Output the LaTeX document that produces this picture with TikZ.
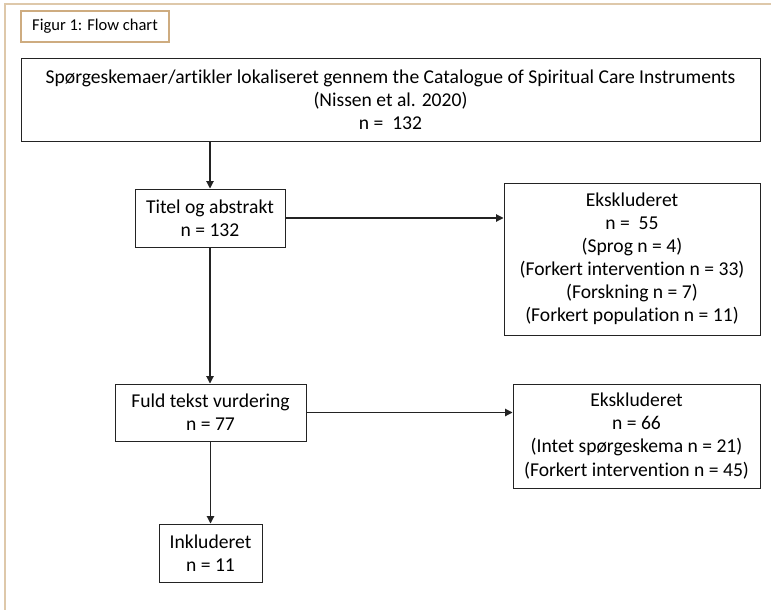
\documentclass[tikz,border=0pt]{standalone}
\usepackage{fontspec}
\setmainfont{Carlito}[Ligatures=NoCommon]
\usepackage{tikz}
\usetikzlibrary{arrows.meta,positioning,calc}
\usepackage{xcolor}
\definecolor{figtan}{RGB}{206,172,128}
\definecolor{frametan}{RGB}{222,200,170}
\definecolor{boxgrey}{RGB}{35,35,35}
\begin{document}
\begin{tikzpicture}[x=0.75pt,y=-0.75pt]
        \tikzstyle{flowbox}=[draw=boxgrey,line width=0.75pt,align=center,inner sep=0pt,
            font=\fontsize{14.7}{17.3}\selectfont]
        \tikzstyle{flowarrow}=[draw=boxgrey,line width=0.8pt,-{Triangle[length=5.5pt,width=5.5pt]}]
        \useasboundingbox (0,0) rectangle (771,610);
        % page frame (only top and left edge visible)
        \draw[frametan,line width=1.4pt] (5,610) -- (5,4) -- (771,4);
        % caption
        \node[draw=figtan,line width=0.9pt,minimum width=111pt,minimum height=23.25pt,inner sep=0pt,
            font=\fontsize{12.4}{14}\selectfont] (caption) at (95,26.5) {Figur 1: Flow chart};
        % boxes of the flow chart (sizes in pt)
        \node[flowbox,minimum width=554.25pt,minimum height=61.5pt] (start) at (390.5,100)
            {Spørgeskemaer/artikler lokaliseret gennem the Catalogue of Spiritual Care Instruments\\
             (Nissen et al. 2020)\\ n =~ 132};
        \node[flowbox,minimum width=112.5pt,minimum height=43.5pt] (titel) at (210,218)
            {Titel og abstrakt\\ n = 132};
        \node[flowbox,minimum width=192pt,minimum height=114pt] (eks1) at (632,259)
            {Ekskluderet\\ n =~ 55\\ (Sprog n = 4)\\ (Forkert intervention n = 33)\\
             (Forskning n = 7)\\ (Forkert population n = 11)};
        \node[flowbox,minimum width=143.25pt,minimum height=42.75pt] (fuld) at (210.5,412.5)
            {Fuld tekst vurdering\\ n = 77};
        \node[flowbox,minimum width=185.25pt,minimum height=78pt] (eks2) at (636.5,436)
            {Ekskluderet\\ n = 66\\ (Intet spørgeskema n = 21)\\ (Forkert intervention n = 45)};
        \node[flowbox,minimum width=77.25pt,minimum height=43.5pt] (inkl) at (210.5,553)
            {Inkluderet\\ n = 11};
        % connectors
        \draw[flowarrow] (start.south -| titel.north) -- (titel.north);
        \draw[flowarrow] (titel.east) -- (titel.east -| eks1.west);
        \draw[flowarrow] (titel.south) -- (fuld.north -| titel.south);
        \draw[flowarrow] (fuld.east) -- (fuld.east -| eks2.west);
        \draw[flowarrow] (fuld.south) -- (inkl.north);
    \end{tikzpicture}
\end{document}
